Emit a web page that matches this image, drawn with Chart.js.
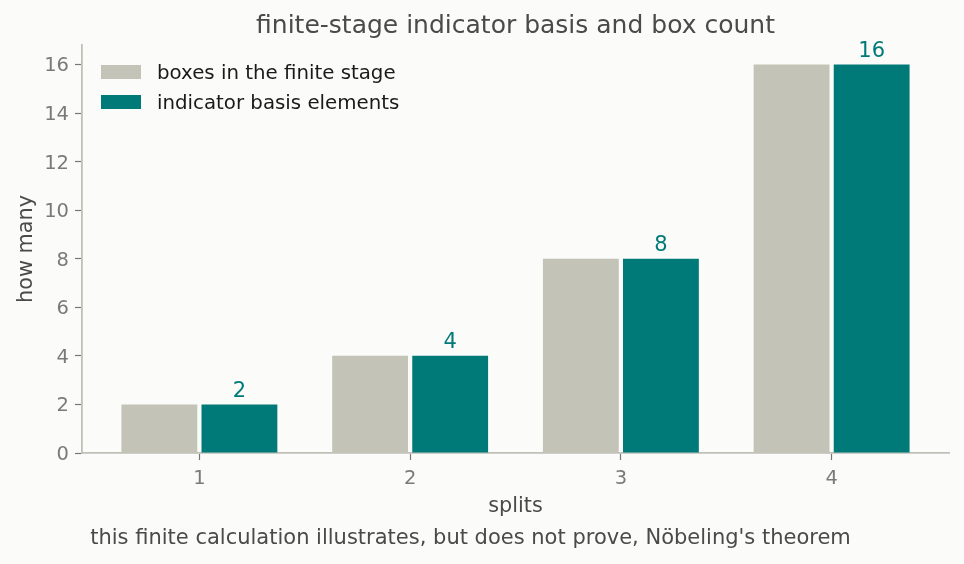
<!DOCTYPE html>
<html><head><meta charset="utf-8">
<script src="https://cdn.jsdelivr.net/npm/chart.js@4/dist/chart.umd.min.js"></script>
<style>html,body{margin:0;padding:0;background:#fbfbf9;}#wrap{width:964px;height:564px;}</style>
</head><body><div id="wrap"><canvas id="c" width="964" height="564"></canvas></div>
<script>
const splits = [1, 2, 3, 4];
const boxes = [2, 4, 8, 16];
const basisElements = [2, 4, 8, 16];
const yTicks = [0, 2, 4, 6, 8, 10, 12, 14, 16];
const seriesNames = ['boxes in the finite stage', 'indicator basis elements'];
const titleText = 'finite-stage indicator basis and box count';
const xLabel = 'splits';
const yLabel = 'how many';
const footnote = "this finite calculation illustrates, but does not prove, Nöbeling's theorem";

const FONT = '"DejaVu Sans", sans-serif';
const GRAY = '#c3c3b8', TEAL = '#007a78';

const textPlugin = {
  id: 'texts',
  afterDraw(chart) {
    const ctx = chart.ctx, ca = chart.chartArea;
    ctx.save();
    // title
    ctx.fillStyle = '#4a4a4a';
    ctx.font = '25px ' + FONT;
    ctx.textAlign = 'center'; ctx.textBaseline = 'middle';
    ctx.fillText(titleText, (ca.left + ca.right) / 2, 26);
    // x label
    ctx.font = '20.8px ' + FONT;
    ctx.fillText(xLabel, (ca.left + ca.right) / 2, 507);
    // y label
    ctx.save();
    ctx.translate(26.5, (ca.top + ca.bottom) / 2);
    ctx.rotate(-Math.PI / 2);
    ctx.fillText(yLabel, 0, 0);
    ctx.restore();
    // footnote
    ctx.font = '21px ' + FONT;
    ctx.fillText(footnote, 470.5, 539);
    // legend
    const colors = [GRAY, TEAL];
    ctx.textAlign = 'left';
    ctx.font = '19.8px ' + FONT;
    seriesNames.forEach((n, i) => {
      const y = 72 + i * 30;
      ctx.fillStyle = colors[i];
      ctx.fillRect(101, y - 7, 40, 14);
      ctx.fillStyle = '#1a1a1a';
      ctx.fillText(n, 157, y + 1.5);
    });
    // value labels on teal bars
    const meta = chart.getDatasetMeta(1);
    ctx.fillStyle = TEAL;
    ctx.textAlign = 'center'; ctx.textBaseline = 'alphabetic';
    ctx.font = '21px ' + FONT;
    meta.data.forEach((bar, i) => {
      ctx.fillText(String(basisElements[i]), bar.x, bar.y - 7.5);
    });
    ctx.restore();
  }
};

new Chart(document.getElementById('c'), {
  type: 'bar',
  data: {
    datasets: [
      { label: seriesNames[0], data: splits.map((s, i) => ({x: s, y: boxes[i]})), backgroundColor: GRAY,
        categoryPercentage: 0.76, barPercentage: 0.947 },
      { label: seriesNames[1], data: splits.map((s, i) => ({x: s, y: basisElements[i]})), backgroundColor: TEAL,
        categoryPercentage: 0.76, barPercentage: 0.947 }
    ]
  },
  options: {
    responsive: false, animation: false,
    layout: { padding: { left: 0, top: 45, right: 15, bottom: 0 } },
    plugins: { legend: { display: false }, title: { display: false }, tooltip: { enabled: false } },
    scales: {
      x: {
        type: 'linear', min: 0.443, max: 4.557, offset: false,
        afterBuildTicks: s => { s.ticks = splits.map(v => ({ value: v })); },
        afterFit: s => { s.height = 111; },
        grid: { offset: false, drawOnChartArea: false, drawTicks: true, tickLength: 7, color: '#777', tickWidth: 1.2 },
        border: { color: '#c0c0b8', width: 1.8 },
        ticks: { color: '#7a7a7a', font: { family: FONT, size: 19.5 }, padding: 7 }
      },
      y: {
        min: 0, max: 16.8,
        afterBuildTicks: s => { s.ticks = yTicks.map(v => ({ value: v })); },
        afterFit: s => { s.width = 82; },
        grid: { drawOnChartArea: false, drawTicks: true, tickLength: 7, color: '#777', tickWidth: 1.2 },
        border: { color: '#c0c0b8', width: 1.8 },
        ticks: { color: '#7a7a7a', font: { family: FONT, size: 19.5 }, padding: 6, labelOffset: 2 }
      }
    }
  },
  plugins: [textPlugin, {
    id: 'bg',
    beforeDraw(chart) { const c = chart.ctx; c.save(); c.fillStyle = '#fbfbf9'; c.fillRect(0, 0, chart.width, chart.height); c.restore(); }
  }]
});
</script></body></html>
